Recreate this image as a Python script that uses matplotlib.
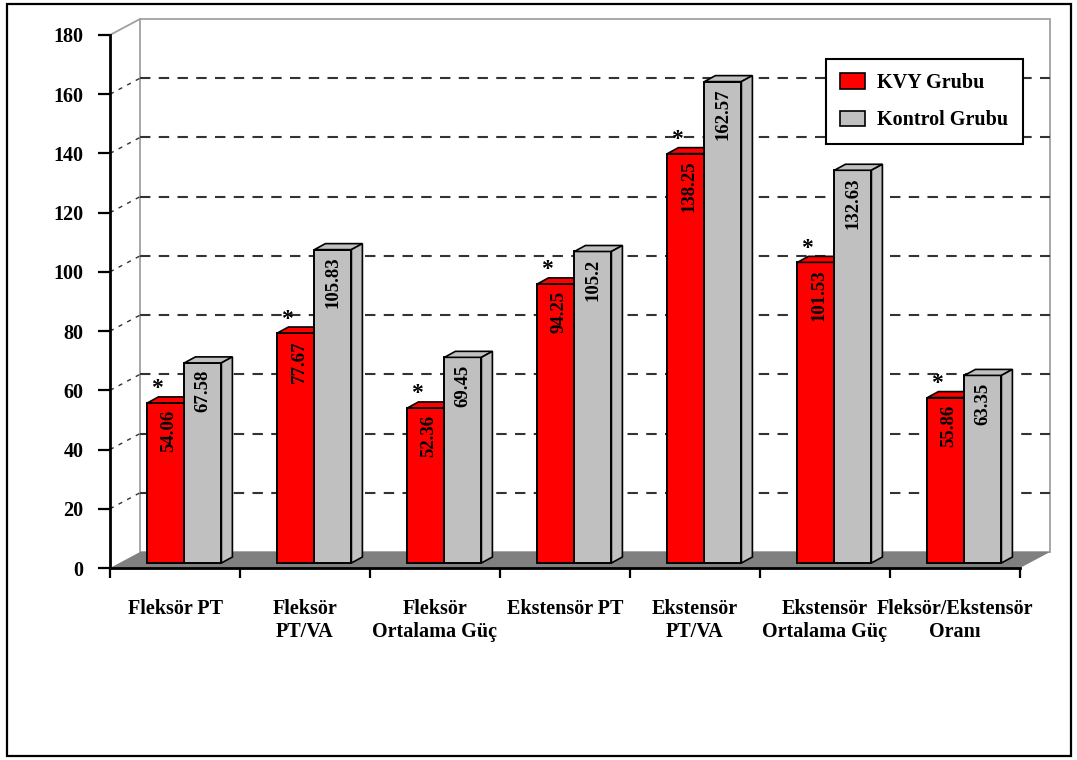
import numpy as np
import matplotlib.pyplot as plt
from matplotlib.patches import Polygon, Rectangle, Patch

plt.rcParams['font.family'] = ['Liberation Serif', 'DejaVu Serif']
plt.rcParams['font.weight'] = 'bold'

# data
categories = ['Fleksör PT', 'Fleksör\nPT/VA', 'Fleksör\nOrtalama Güç', 'Ekstensör PT',
              'Ekstensör\nPT/VA', 'Ekstensör\nOrtalama Güç', 'Fleksör/Ekstensör\nOranı']
kvy = [54.06, 77.67, 52.36, 94.25, 138.25, 101.53, 55.86]
kontrol = [67.58, 105.83, 69.45, 105.2, 162.57, 132.63, 63.35]
significant = [True, True, True, True, True, True, True]
series_names = ['KVY Grubu', 'Kontrol Grubu']
series_colors = ['#ff0000', '#c0c0c0']
yticks = [0, 20, 40, 60, 80, 100, 120, 140, 160, 180]

W, H = 1077, 760
fig = plt.figure(figsize=(W / 100, H / 100), dpi=100)
ax = fig.add_axes([110 / W, 1 - 568 / H, 910 / W, 533 / H])
n = len(categories)
ax.set_xlim(0, n)
ax.set_ylim(0, 180)

# pixel -> data units
ux = n / 910
uy = 180 / 533
wall_dx, wall_dy = 30 * ux, 16 * uy     # depth of the back wall
bar_sx, bar_sy = 9.4 * ux, 5 * uy       # bars sit part way into the depth
bar_dx, bar_dy = 11 * ux, 6 * uy        # depth of each bar
bw = 37 * ux

# outer frame of the picture
fig.patches.append(Rectangle((7 / W, 4 / H), 1064 / W, 752 / H, transform=fig.transFigure,
                             fill=False, edgecolor='black', lw=1.6))

# back wall
ax.add_patch(Rectangle((wall_dx, wall_dy), n, 180, facecolor='white', edgecolor='#a0a0a0',
                       lw=1.3, zorder=1, clip_on=False))
ax.plot([0, wall_dx], [180, 180 + wall_dy], color='#a0a0a0', lw=1.3, clip_on=False, zorder=1)

# grid lines on the back wall and the left side
for v in yticks[1:-1]:
    ax.plot([wall_dx, n + wall_dx], [v + wall_dy, v + wall_dy], color='#333333', lw=1.5,
            dashes=(5, 4), clip_on=False, zorder=1.5)
    ax.plot([0, wall_dx], [v, v + wall_dy], color='#333333', lw=1.0,
            dashes=(3, 4), clip_on=False, zorder=1.5)

# floor
ax.add_patch(Polygon([(0, 0), (n, 0), (n + wall_dx, wall_dy), (wall_dx, wall_dy)],
                     closed=True, facecolor='#808080', edgecolor='none', zorder=2, clip_on=False))

# bars with top and side faces
for j, (vals, col) in enumerate(zip([kvy, kontrol], series_colors)):
    for i, v in enumerate(vals):
        x0 = i + 0.5 + bar_sx - bw + j * bw
        top = bar_sy + v
        z = 3 + j
        ax.bar(x0, v, width=bw, bottom=bar_sy, align='edge', color=col,
               edgecolor='black', lw=1.4, zorder=z)
        ax.add_patch(Polygon([(x0, top), (x0 + bw, top), (x0 + bw + bar_dx, top + bar_dy),
                              (x0 + bar_dx, top + bar_dy)], closed=True, facecolor=col,
                             edgecolor='black', lw=1.2, zorder=z))
        ax.add_patch(Polygon([(x0 + bw, bar_sy), (x0 + bw + bar_dx, bar_sy + bar_dy),
                              (x0 + bw + bar_dx, top + bar_dy), (x0 + bw, top)], closed=True,
                             facecolor=col, edgecolor='black', lw=1.2, zorder=z))
        xc = x0 + bw / 2 + (3 * ux if j == 0 else 0)
        ax.text(xc, top - 7 * uy, f'{v:g}', rotation=90, ha='center', va='top',
                fontsize=13.5, zorder=6)
        if j == 0 and significant[i]:
            ax.text(x0 + 10 * ux, top + 14 * uy, '*', ha='center', va='center',
                    fontsize=17, zorder=6)

# axes
for s in ['top', 'right']:
    ax.spines[s].set_visible(False)
ax.spines['left'].set_linewidth(2)
ax.spines['bottom'].set_linewidth(2)
ax.spines['left'].set_zorder(7)
ax.spines['bottom'].set_zorder(7)
ax.set_yticks(yticks)
ax.set_yticklabels([str(t) for t in yticks])
ax.tick_params(axis='y', direction='out', length=9, width=1.6, pad=10, labelsize=14.5)
ax.set_xticks(np.arange(n + 1))
ax.set_xticklabels([])
ax.set_xticks(np.arange(n) + 0.5, minor=True)
ax.set_xticklabels(categories, minor=True, fontsize=14.5, linespacing=1.2)
ax.tick_params(axis='x', which='major', direction='out', length=7, width=1.6)
ax.tick_params(axis='x', which='minor', length=0, pad=22)

handles = [Patch(facecolor=c, edgecolor='black', lw=1.2) for c in series_colors]
leg = ax.legend(handles, series_names, loc='upper left', bbox_to_anchor=(826 / W, 1 - 59 / H),
                bbox_transform=fig.transFigure, borderaxespad=0, fancybox=False,
                edgecolor='black', framealpha=1, fontsize=14.5, handlelength=1.25,
                handleheight=0.8, handletextpad=0.6, labelspacing=0.85, borderpad=0.7)
leg.get_frame().set_linewidth(1.5)
leg.set_zorder(10)

fig.savefig('out.png', dpi=100)
